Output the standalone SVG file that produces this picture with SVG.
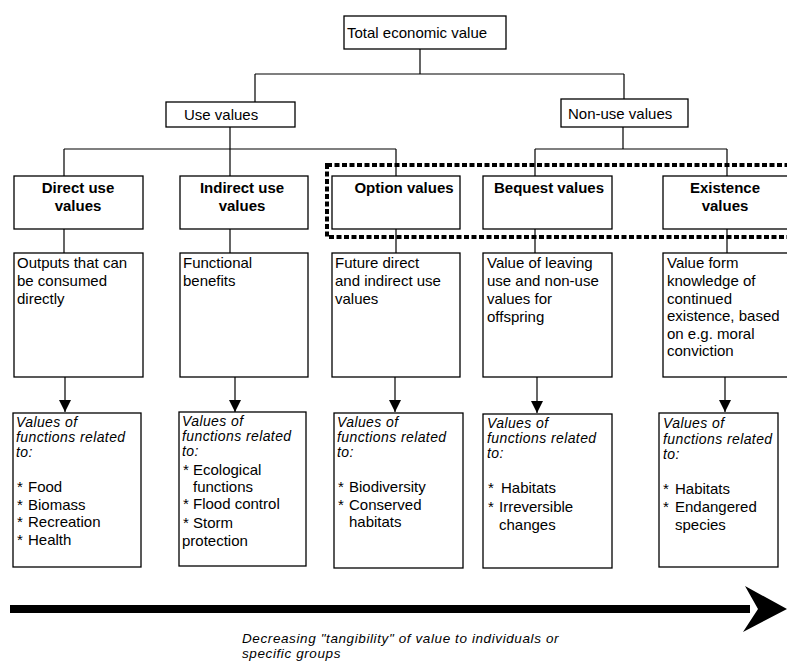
<svg xmlns="http://www.w3.org/2000/svg" width="787" height="662" viewBox="0 0 787 662">
<style>
.box{fill:#fff;stroke:#000;stroke-width:1.3}
.ln{stroke:#000;stroke-width:1.2;fill:none}
.t{font-family:"Liberation Sans",Arial,sans-serif;font-size:15px;fill:#000}
.b{font-weight:bold;text-anchor:middle}
.i{font-style:italic;font-size:14px;letter-spacing:0.4px}
.cap{font-family:"Liberation Sans",Arial,sans-serif;font-style:italic;font-size:13.5px;letter-spacing:0.6px;fill:#000}
</style>
<defs>
<marker id="ah" markerUnits="userSpaceOnUse" markerWidth="14" markerHeight="14" viewBox="0 0 14 14" refX="13" refY="7" orient="auto">
<path d="M1,1 L13,7 L1,13 Z" fill="#000"/>
</marker>
</defs>
<rect width="787" height="662" fill="#fff"/>
<g id="connectors">
<path class="ln" d="M420,49 V74 M255,74 H624 M255,74 V102 M624,74 V99"/>
<path class="ln" d="M230,127 V176 M64,149 H396 M64,149 V176 M396,149 V176"/>
<path class="ln" d="M623,127 V149 M535,149 H727 M535,149 V176 M727,149 V176"/>
<path class="ln" d="M64,229 V253 M230,229 V253 M396,229 V253 M535,229 V253 M727,229 V253"/>
<path class="ln" marker-end="url(#ah)" d="M65,377 V412"/>
<path class="ln" marker-end="url(#ah)" d="M235,377 V412"/>
<path class="ln" marker-end="url(#ah)" d="M395,377 V412"/>
<path class="ln" marker-end="url(#ah)" d="M537,377 V413"/>
<path class="ln" marker-end="url(#ah)" d="M725,377 V412"/>
</g>
<g id="total">
<rect class="box" x="344" y="16" width="162" height="33"/>
<text class="t" x="347" y="38">Total economic value</text>
</g>
<g id="use">
<rect class="box" x="166" y="102" width="129" height="25"/>
<text class="t" x="184" y="120">Use values</text>
</g>
<g id="nonuse">
<rect class="box" x="561" y="99" width="127" height="28"/>
<text class="t" x="568" y="119">Non-use values</text>
</g>
<g id="dashed">
<rect x="327" y="165" width="470" height="72" fill="none" stroke="#000" stroke-width="4" stroke-dasharray="5 2.5"/>
</g>
<g id="direct">
<rect class="box" x="14" y="176" width="129" height="53"/>
<text class="t b" x="78" y="193">Direct use</text>
<text class="t b" x="78" y="211">values</text>
</g>
<g id="indirect">
<rect class="box" x="180" y="176" width="128" height="53"/>
<text class="t b" x="242" y="193">Indirect use</text>
<text class="t b" x="242" y="211">values</text>
</g>
<g id="option">
<rect class="box" x="332" y="176" width="128" height="53"/>
<text class="t b" x="404" y="193">Option values</text>
</g>
<g id="bequest">
<rect class="box" x="483" y="176" width="129" height="53"/>
<text class="t b" x="549" y="193">Bequest values</text>
</g>
<g id="existence">
<rect class="box" x="663" y="176" width="129" height="53"/>
<text class="t b" x="725" y="193">Existence</text>
<text class="t b" x="725" y="211">values</text>
</g>
<g id="direct-desc">
<rect class="box" x="14" y="253" width="129" height="124"/>
<text class="t" x="17" y="268">Outputs that can</text>
<text class="t" x="17" y="286">be consumed</text>
<text class="t" x="17" y="304">directly</text>
</g>
<g id="indirect-desc">
<rect class="box" x="180" y="253" width="128" height="124"/>
<text class="t" x="183" y="268">Functional</text>
<text class="t" x="183" y="286">benefits</text>
</g>
<g id="option-desc">
<rect class="box" x="332" y="253" width="128" height="124"/>
<text class="t" x="335" y="268">Future direct</text>
<text class="t" x="335" y="286">and indirect use</text>
<text class="t" x="335" y="304">values</text>
</g>
<g id="bequest-desc">
<rect class="box" x="483" y="253" width="129" height="124"/>
<text class="t" x="487" y="268">Value of leaving</text>
<text class="t" x="487" y="286">use and non-use</text>
<text class="t" x="487" y="304">values for</text>
<text class="t" x="487" y="322">offspring</text>
</g>
<g id="existence-desc">
<rect class="box" x="663" y="253" width="129" height="124"/>
<text class="t" x="667" y="268">Value form</text>
<text class="t" x="667" y="286">knowledge of</text>
<text class="t" x="667" y="304">continued</text>
<text class="t" x="667" y="321">existence, based</text>
<text class="t" x="667" y="339">on e.g. moral</text>
<text class="t" x="667" y="356">conviction</text>
</g>
<g id="direct-funcs">
<rect class="box" x="13" y="413" width="128" height="154"/>
<text class="t i" x="16" y="427">Values of</text>
<text class="t i" x="16" y="442">functions related</text>
<text class="t i" x="16" y="457">to:</text>
<text class="t" x="17" y="492">*</text><text class="t" x="28" y="492">Food</text>
<text class="t" x="17" y="510">*</text><text class="t" x="28" y="510">Biomass</text>
<text class="t" x="17" y="527">*</text><text class="t" x="28" y="527">Recreation</text>
<text class="t" x="17" y="545">*</text><text class="t" x="28" y="545">Health</text>
</g>
<g id="indirect-funcs">
<rect class="box" x="179" y="412" width="127" height="154"/>
<text class="t i" x="182" y="426">Values of</text>
<text class="t i" x="182" y="441">functions related</text>
<text class="t i" x="182" y="456">to:</text>
<text class="t" x="183" y="475">*</text><text class="t" x="193" y="475">Ecological</text>
<text class="t" x="193" y="492">functions</text>
<text class="t" x="183" y="509">*</text><text class="t" x="193" y="509">Flood control</text>
<text class="t" x="183" y="528">*</text><text class="t" x="193" y="528">Storm</text>
<text class="t" x="182" y="546">protection</text>
</g>
<g id="option-funcs">
<rect class="box" x="334" y="413" width="129" height="155"/>
<text class="t i" x="337" y="427">Values of</text>
<text class="t i" x="337" y="442">functions related</text>
<text class="t i" x="337" y="457">to:</text>
<text class="t" x="338" y="492">*</text><text class="t" x="349" y="492">Biodiversity</text>
<text class="t" x="338" y="510">*</text><text class="t" x="349" y="510">Conserved</text>
<text class="t" x="349" y="527">habitats</text>
</g>
<g id="bequest-funcs">
<rect class="box" x="483" y="414" width="129" height="154"/>
<text class="t i" x="487" y="428">Values of</text>
<text class="t i" x="487" y="443">functions related</text>
<text class="t i" x="487" y="458">to:</text>
<text class="t" x="488" y="493">*</text><text class="t" x="501" y="493">Habitats</text>
<text class="t" x="488" y="512">*</text><text class="t" x="499" y="512">Irreversible</text>
<text class="t" x="499" y="530">changes</text>
</g>
<g id="existence-funcs">
<rect class="box" x="659" y="413" width="119" height="154"/>
<text class="t i" x="663" y="428">Values of</text>
<text class="t i" x="663" y="444">functions related</text>
<text class="t i" x="663" y="459">to:</text>
<text class="t" x="663" y="494">*</text><text class="t" x="675" y="494">Habitats</text>
<text class="t" x="663" y="512">*</text><text class="t" x="675" y="512">Endangered</text>
<text class="t" x="675" y="530">species</text>
</g>
<g id="tangibility">
<rect x="10" y="605" width="740" height="8" fill="#000"/>
<polygon points="745,586 787,609 743,632 758,609" fill="#000"/>
<text class="cap" x="242" y="643">Decreasing "tangibility" of value to individuals or</text>
<text class="cap" x="242" y="658">specific  groups</text>
</g>
</svg>
